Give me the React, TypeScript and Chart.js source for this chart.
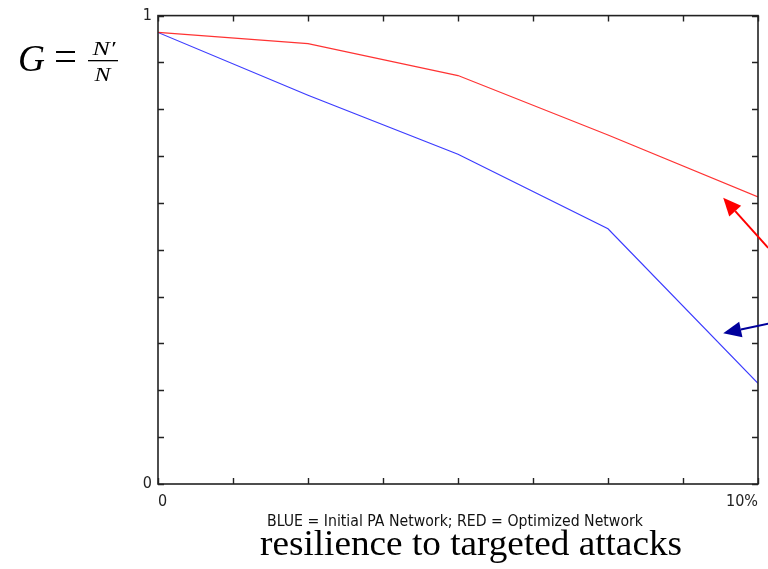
import React, { useEffect, useRef } from "react";
import { Chart, registerables } from "chart.js";

Chart.register(...registerables);

// ---- data ----
const attackPercent = [0, 2.5, 5, 7.5, 10];
const redOptimized = [0.964, 0.94, 0.872, 0.745, 0.613];
const blueInitial = [0.964, 0.83, 0.704, 0.545, 0.215];
const xTickLabels: Record<number, string> = { 0: "0", 10: "10%" };
const yTickLabels: Record<number, string> = { 0: "0", 1: "1" };
const captionText = "BLUE = Initial PA Network; RED = Optimized Network";
const titleText = "resilience to targeted attacks";
// annotation arrows in data units: [tailX, tailY, tipX, tipY]
const redArrow = [10.17, 0.504, 9.42, 0.611];
const blueArrow = [10.17, 0.342, 9.42, 0.322];

const W = 768;
const H = 569;

function drawArrow(ctx: CanvasRenderingContext2D, x1: number, y1: number, x2: number, y2: number, color: string) {
  const ang = Math.atan2(y2 - y1, x2 - x1);
  const len = 18;
  const hw = 8;
  const bx = x2 - len * Math.cos(ang);
  const by = y2 - len * Math.sin(ang);
  ctx.save();
  ctx.strokeStyle = color;
  ctx.fillStyle = color;
  ctx.lineWidth = 2;
  ctx.beginPath();
  ctx.moveTo(x1, y1);
  ctx.lineTo(bx, by);
  ctx.stroke();
  ctx.beginPath();
  ctx.moveTo(x2, y2);
  ctx.lineTo(bx + hw * Math.sin(ang), by - hw * Math.cos(ang));
  ctx.lineTo(bx - hw * Math.sin(ang), by + hw * Math.cos(ang));
  ctx.closePath();
  ctx.fill();
  ctx.restore();
}

// draw text centred at cx, scaled horizontally to the given width
function drawWide(ctx: CanvasRenderingContext2D, text: string, cx: number, y: number, width: number) {
  const w = ctx.measureText(text).width;
  const sx = width / w;
  ctx.save();
  ctx.translate(cx, y);
  ctx.scale(sx, 1);
  ctx.textAlign = "center";
  ctx.fillText(text, 0, 0);
  ctx.restore();
}

const framePlugin = {
  id: "frame",
  beforeDraw(chart: any) {
    const ctx = chart.ctx;
    ctx.save();
    ctx.fillStyle = "#fff";
    ctx.fillRect(0, 0, chart.width, chart.height);
    ctx.restore();
  },
  afterDatasetsDraw(chart: any) {
    const ctx = chart.ctx as CanvasRenderingContext2D;
    const { left, right, top, bottom } = chart.chartArea;
    const xs = chart.scales.x;
    const ys = chart.scales.y;
    ctx.save();
    ctx.strokeStyle = "#222";
    ctx.lineWidth = 1.6;
    ctx.strokeRect(left, top, right - left, bottom - top);
    const tl = 6;
    ctx.lineWidth = 1.4;
    ctx.beginPath();
    xs.ticks.forEach((t: any) => {
      const px = Math.round(xs.getPixelForValue(t.value)) + 0.5;
      ctx.moveTo(px, bottom);
      ctx.lineTo(px, bottom - tl);
      ctx.moveTo(px, top);
      ctx.lineTo(px, top + tl);
    });
    ys.ticks.forEach((t: any) => {
      const py = Math.round(ys.getPixelForValue(t.value)) + 0.5;
      ctx.moveTo(left, py);
      ctx.lineTo(left + tl, py);
      ctx.moveTo(right, py);
      ctx.lineTo(right - tl, py);
    });
    ctx.stroke();
    ctx.restore();
  },
  afterDraw(chart: any) {
    const ctx = chart.ctx as CanvasRenderingContext2D;
    const xs = chart.scales.x;
    const ys = chart.scales.y;
    ctx.save();
    drawArrow(
      ctx,
      xs.getPixelForValue(redArrow[0]), ys.getPixelForValue(redArrow[1]),
      xs.getPixelForValue(redArrow[2]), ys.getPixelForValue(redArrow[3]),
      "#ff0000"
    );
    drawArrow(
      ctx,
      xs.getPixelForValue(blueArrow[0]), ys.getPixelForValue(blueArrow[1]),
      xs.getPixelForValue(blueArrow[2]), ys.getPixelForValue(blueArrow[3]),
      "#00009c"
    );
    ctx.restore();

    // formula G = N'/N
    ctx.save();
    ctx.fillStyle = "#000";
    ctx.textBaseline = "alphabetic";
    ctx.font = "italic 38px 'Liberation Serif', serif";
    drawWide(ctx, "G", 31.5, 71, 27);
    ctx.font = "42px 'Liberation Serif', serif";
    drawWide(ctx, "=", 65.5, 70, 23);
    ctx.font = "italic 18px 'Liberation Serif', serif";
    drawWide(ctx, "N\u2032", 104, 55, 23);
    drawWide(ctx, "N", 102.5, 81, 16);
    ctx.fillRect(88, 60, 30, 1.3);

    // caption
    ctx.font = "15px 'DejaVu Sans Condensed', 'Liberation Sans', sans-serif";
    ctx.fillStyle = "#111";
    drawWide(ctx, captionText, 455, 526, 376);
    // title
    ctx.font = "36px 'Liberation Serif', serif";
    ctx.fillStyle = "#000";
    drawWide(ctx, titleText, 471, 555, 422);
    ctx.restore();
  },
};

export default function App() {
  const ref = useRef<HTMLCanvasElement | null>(null);
  useEffect(() => {
    if (!ref.current) return;
    const tickFont = { family: "'DejaVu Sans Condensed', 'Liberation Sans', sans-serif", size: 16 };
    const chart = new Chart(ref.current, {
      type: "line",
      data: {
        datasets: [
          {
            label: "Optimized",
            data: attackPercent.map((x, i) => ({ x, y: redOptimized[i] })),
            borderColor: "rgba(255,40,40,0.95)",
            borderWidth: 1.2,
            pointRadius: 0,
            tension: 0,
          },
          {
            label: "Initial PA",
            data: attackPercent.map((x, i) => ({ x, y: blueInitial[i] })),
            borderColor: "rgba(50,50,255,0.95)",
            borderWidth: 1.2,
            pointRadius: 0,
            tension: 0,
          },
        ],
      },
      plugins: [framePlugin],
      options: {
        animation: false,
        responsive: false,
        devicePixelRatio: 1,
        layout: { padding: { left: 0, right: 10, top: 14, bottom: 0 } },
        plugins: { legend: { display: false }, tooltip: { enabled: false } },
        scales: {
          x: {
            type: "linear",
            min: 0,
            max: 10,
            grid: { display: false, drawTicks: false },
            border: { display: false },
            afterFit: (s: any) => { s.height = 85; },
            ticks: {
              stepSize: 1.25,
              autoSkip: false,
              maxRotation: 0,
              align: "inner",
              padding: 8,
              color: "#222",
              font: tickFont,
              callback: (v: any) => xTickLabels[v as number] ?? "",
            },
          },
          y: {
            type: "linear",
            min: 0,
            max: 1,
            grid: { display: false, drawTicks: false },
            border: { display: false },
            afterFit: (s: any) => { s.width = 158; },
            ticks: {
              stepSize: 0.1,
              autoSkip: false,
              padding: 6,
              color: "#222",
              font: tickFont,
              callback: (v: any) => {
                const r = Math.round((v as number) * 10) / 10;
                return yTickLabels[r] ?? "";
              },
            },
          },
        },
      },
    });
    return () => chart.destroy();
  }, []);
  return (
    <div style={{ position: "absolute", left: 0, top: 0, width: W, height: H, background: "#fff" }}>
      <canvas ref={ref} width={W} height={H} style={{ display: "block" }} />
    </div>
  );
}
